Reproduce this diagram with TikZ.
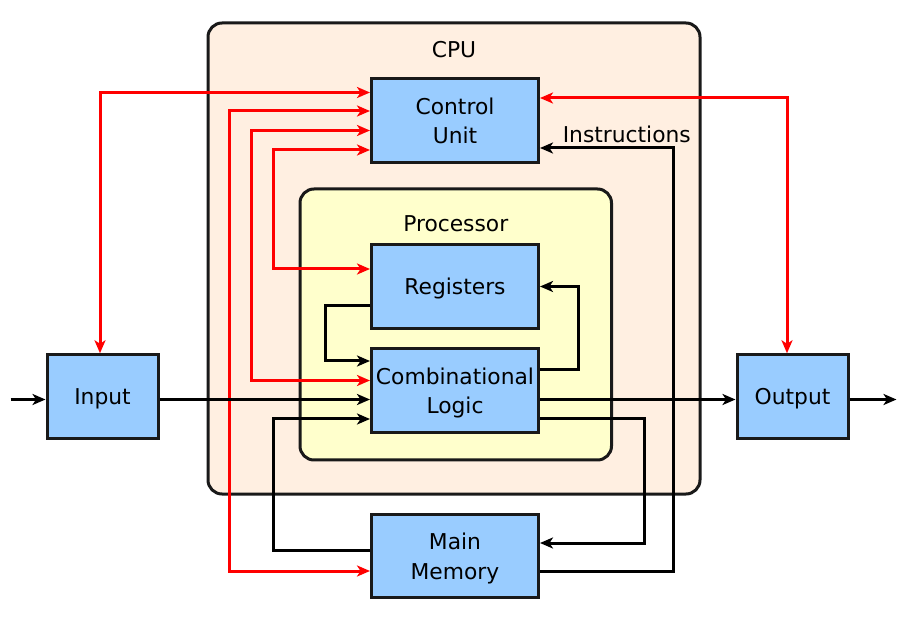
\documentclass[tikz,border=0pt]{standalone}
\usepackage{fontspec}
\setmainfont{DejaVu Sans}
\usetikzlibrary{calc,arrows.meta}

\definecolor{cpufill}{HTML}{FFEFE1}
\definecolor{procfill}{HTML}{FFFFCC}
\definecolor{unitfill}{HTML}{99CCFF}

\begin{document}
\begin{tikzpicture}[x=1pt, y=-1pt, >={Stealth[length=13pt,width=11pt,inset=3.5pt]},
  line width=3pt, font=\fontsize{21.8}{29.5}\selectfont,
  frame/.style={draw=black!90, rounded corners=14pt},
  unit/.style={draw=black!90, fill=unitfill, minimum width=167pt, minimum height=83.5pt, align=center, inner sep=1pt, text depth=0pt},
  io/.style={unit, minimum width=111pt},
  wire/.style={->, black},
  ctrl/.style={<->, red}]
  \useasboundingbox (0,0) rectangle (900,617);

  % draw cpu and processor frames
  \node [frame, fill=cpufill, minimum width=492pt, minimum height=471pt] (cpu) at (454, 258.5) {};
  \node (cpu-title) at ($(cpu.north)+(0,28)$) {CPU};
  \node [frame, fill=procfill, minimum width=311.5pt, minimum height=271pt] (proc) at (455.75, 324.5) {};
  \node (proc-title) at ($(proc.north)+(0,36)$) {Processor};

  % draw units
  \node [unit] (control) at (455, 120.5) {Control\\Unit};
  \node [unit] (registers) at (455, 286.5) {Registers};
  \node [unit] (logic) at (455, 390.5) {Combinational\\Logic};
  \node [unit] (memory) at (455, 556) {Main\\Memory};
  \node [io] (input) at (102.5, 396.5) {Input};
  \node [io] (output) at (792.5, 396.5) {Output};

  \coordinate (in-src) at ($(input.west)+(-35,3)$);
  \coordinate (out-dst) at ($(output.east)+(47,3)$);

  % control signals
  \draw [ctrl] ($(input.north)+(-2.5,0)$) |- ($(control.west)+(0,-28)$);
  \draw [ctrl] ($(control.east)+(0,-22.5)$) -| ($(output.north)+(-5.5,0)$);
  \foreach \tgt/\cy/\lx/\ty in {memory/-9.5/-140.5/15, logic/10/-118.5/-10, registers/29.5/-96.5/-17.5}
  \draw [ctrl] ($(control.west)+(0,\cy)$) -| ($(\tgt.west)+(\lx,\ty)$) -- ($(\tgt.west)+(0,\ty)$);

  % data path
  \draw [wire] (in-src) -- ($(input.west)+(0,3)$);
  \draw [wire] ($(input.east)+(0,3)$) -- ($(logic.west)+(0,9)$);
  \draw [wire] ($(logic.east)+(0,9)$) -- ($(output.west)+(0,3)$);
  \draw [wire] ($(output.east)+(0,3)$) -- (out-dst);

  \draw [wire] ($(registers.west)+(0,19.5)$) -| ($(logic.west)+(-44.5,-29.5)$) -- ($(logic.west)+(0,-29.5)$);
  \draw [wire] ($(logic.east)+(0,-21)$) -| ($(registers.east)+(38.5,0)$) -- (registers.east);

  \draw [wire] ($(memory.west)+(0,-6)$) -| ($(logic.west)+(-96.5,28.5)$) -- ($(logic.west)+(0,28.5)$);
  \draw [wire] ($(logic.east)+(0,28.5)$) -| ($(memory.east)+(104.5,-13)$) -- ($(memory.east)+(0,-13)$);
  \draw [wire] ($(memory.east)+(0,15)$) -| ($(control.east)+(133.5,27.5)$)
  -- node [above, pos=0.35] {Instructions} ($(control.east)+(0,27.5)$);

\end{tikzpicture}
\end{document}
